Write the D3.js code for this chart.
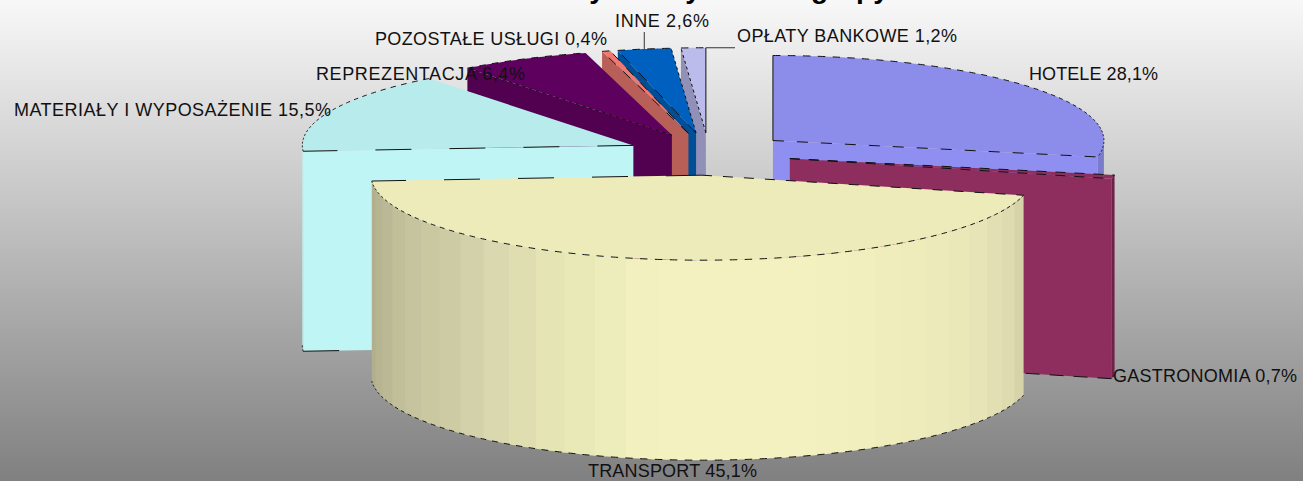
<!DOCTYPE html>
<html>
<head>
<meta charset="utf-8">
<script src="https://cdn.jsdelivr.net/npm/d3@7"></script>
<style>
  html, body { margin: 0; padding: 0; background: #fff; overflow: hidden; }
  text { font-family: "Liberation Sans", Arial, sans-serif; }
</style>
</head>
<body>
<div id="chart"></div>
<script>
var categories = ["HOTELE", "GASTRONOMIA", "TRANSPORT", "MATERIAŁY I WYPOSAŻENIE", "REPREZENTACJA", "POZOSTAŁE USŁUGI", "INNE", "OPŁATY BANKOWE"];
var values = [28.1, 0.7, 45.1, 15.5, 6.4, 0.4, 2.6, 1.2];
// only the descenders of the title are on the picture, so only what can be read is kept
var titleGlyphs = ["y", "y", "grupy"];

var topColors = ["#8c8ceb", "#8e2e5e", "#eeebbb", "#b8ecec", "#5e005e", "#f07870", "#0060c0", "#bcbcec"];
var wallColors = ["#8f8ff2", "#8e2e5e", "#f2f0c0", "#c0f5f5", "#520050", "#b86058", "#004f96", "#9090b8"];
var rimColors = ["#7b7bcc", "#6e2248", "#f2f0c0", "#c0f5f5", "#520050", "#b86058", "#004f96", "#9090b8"];

// dash of the two straight edges of each slice, "skip" leaves the edge out
var startDash = [null, "10,9", "10,11", "36,38", "3,4", "10,10", "12,12", "3,3"];
var endDash = ["11,13", "10,9", "36,38", "skip", "skip", "10,10", "3,3", null];
var baseDash = ["12,12", "14,10", "", "36,38", "", "", "", ""];

var width = 1303, height = 481;
var rad = Math.PI / 180;
var depth = 200, explode = 0.25;

var svg = d3.select("#chart").append("svg")
  .attr("width", width)
  .attr("height", height)
  .style("display", "block");

var grad = svg.append("defs").append("linearGradient")
  .attr("id", "bg").attr("x1", 0).attr("y1", 0).attr("x2", 0).attr("y2", 1);
grad.append("stop").attr("offset", 0).attr("stop-color", "#f8f8f8");
grad.append("stop").attr("offset", 1).attr("stop-color", "#808080");
svg.append("rect").attr("width", width).attr("height", height).attr("fill", "url(#bg)");

// flat projection of the unit circle
var sx = d3.scaleLinear().domain([-1, 1]).range([709 - 331, 709 + 331]);
var sy = d3.scaleLinear().domain([-1, 1]).range([154 - 85, 154 + 85]);

// banding on the front wall of the big slice
var bandColor = d3.scaleLinear()
  .domain([104, 113, 125, 143, 165, 189, 200, 208, 218, 228, 240, 252, 264].map(function(d) { return d * rad; }))
  .range(["#d2d0a4", "#dedcb0", "#e8e6b8", "#efedbc", "#f3f1c0", "#f3f1c0", "#eaeab9", "#e4e3b4", "#dad9ae", "#cdcca5", "#c6c59f", "#bbb995", "#b0ae8c"]);

var arcs = d3.pie().sort(null).startAngle(0).endAngle(2 * Math.PI)(values);
arcs.forEach(function(d, i) {
  var mid = (d.startAngle + d.endAngle) / 2;
  d.name = categories[i];
  d.cx = sx(explode * Math.sin(mid));
  d.cy = sy(-explode * Math.cos(mid));
});

function pt(d, a, h) {
  return [
    d.cx + sx(Math.sin(a)) - sx(0),
    d.cy + sy(-Math.cos(a)) - sy(0) + (h || 0)
  ];
}

function arcPts(d, a0, a1, h) {
  var n = Math.max(2, Math.ceil((a1 - a0) / (0.5 * rad)));
  return d3.range(n + 1).map(function(k) {
    return pt(d, a0 + (a1 - a0) * k / n, h);
  });
}

var openLine = d3.line();
var closedLine = d3.line().curve(d3.curveLinearClosed);

function edge(g, pts, dash) {
  if (dash === "skip") return;
  g.append("path")
    .attr("d", openLine(pts))
    .attr("fill", "none")
    .attr("stroke", "#111")
    .attr("stroke-width", 1)
    .attr("stroke-dasharray", dash);
}

// the dash runs in equal angles, so it reads as dots at the sides of the ellipse
function arcEdge(g, d, a0, a1, h) {
  var period = 2.6 * rad;
  d3.range(a0, a1, period).forEach(function(a) {
    edge(g, arcPts(d, a, Math.min(a + period / 2, a1), h), null);
  });
}

function drawSlice(d, i) {
  var g = svg.append("g").attr("class", "slice");
  var a0 = d.startAngle, a1 = d.endAngle;
  var c = [d.cx, d.cy];

  // radial wall that turns to the viewer
  var wallA = a1 < Math.PI ? a1 : (a0 > Math.PI ? a0 : null);
  if (wallA !== null) {
    g.append("path")
      .attr("d", closedLine([c, pt(d, wallA), pt(d, wallA, depth), [d.cx, d.cy + depth]]))
      .attr("fill", wallColors[i]);
    edge(g, [pt(d, wallA, depth), [d.cx, d.cy + depth]], baseDash[i]);
  }

  // outer wall, only the front half of the circle shows it
  var f0 = Math.max(a0, Math.PI / 2), f1 = Math.min(a1, 1.5 * Math.PI);
  if (f1 > f0) {
    if (i === 2) {
      // each band runs a bit under the next one so no seam shows
      var step = 5.6 * rad;
      d3.range(f0, f1, step).forEach(function(a) {
        var b = Math.min(a + step * 1.2, f1);
        var upper = arcPts(d, a, b);
        var lower = arcPts(d, a, b, depth).reverse();
        g.append("path")
          .attr("d", closedLine(upper.concat(lower)))
          .attr("fill", bandColor(a + step / 2));
      });
    } else {
      g.append("path")
        .attr("d", closedLine(arcPts(d, f0, f1).concat(arcPts(d, f0, f1, depth).reverse())))
        .attr("fill", rimColors[i]);
    }
    arcEdge(g, d, f0, f1, depth);
  }

  // top face
  g.append("path")
    .attr("d", closedLine([c].concat(arcPts(d, a0, a1))))
    .attr("fill", topColors[i]);
  arcEdge(g, d, a0, a1);
  edge(g, [c, pt(d, a0)], startDash[i]);
  edge(g, [c, pt(d, a1)], endDash[i]);
}

// back slices first, the big front slice last
[0, 1, 7, 6, 5, 4, 3, 2].forEach(function(i) { drawSlice(arcs[i], i); });

// leader lines
var inneTop = pt(arcs[6], (arcs[6].startAngle + arcs[6].endAngle) / 2);
svg.append("line")
  .attr("x1", inneTop[0]).attr("x2", inneTop[0])
  .attr("y1", 32).attr("y2", inneTop[1])
  .attr("stroke", "#333");
var oplatyTop = pt(arcs[7], arcs[7].endAngle);
svg.append("line")
  .attr("x1", oplatyTop[0]).attr("x2", 735)
  .attr("y1", oplatyTop[1]).attr("y2", oplatyTop[1])
  .attr("stroke", "#333");

// labels
var pl = d3.formatLocale({ decimal: ",", thousands: " ", grouping: [3], currency: ["", " zł"] });
var pct = pl.format(".1f");
var labelX = [1029, 1113, 588, 14, 316, 375, 615, 737];
var labelY = [80, 382, 477, 116, 80, 45, 27, 42];
var labelW = [129, 184, 169, 317, 209, 232, 94, 220];

svg.selectAll("text.label")
  .data(arcs)
  .enter().append("text")
  .attr("class", "label")
  .attr("x", function(d, i) { return labelX[i]; })
  .attr("y", function(d, i) { return labelY[i]; })
  .attr("font-size", 18)
  .attr("textLength", function(d, i) { return labelW[i]; })
  .attr("lengthAdjust", "spacing")
  .attr("fill", "#111")
  .text(function(d) { return d.name + " " + pct(d.value) + "%"; });

// title, cut off by the top edge
var titleX = [597, 693, 811];
var titleAnchor = ["middle", "middle", "start"];
svg.selectAll("text.title")
  .data(titleGlyphs)
  .enter().append("text")
  .attr("class", "title")
  .attr("x", function(d, i) { return titleX[i]; })
  .attr("y", -2)
  .attr("text-anchor", function(d, i) { return titleAnchor[i]; })
  .attr("font-size", 28)
  .attr("font-weight", "bold")
  .attr("fill", "#000")
  .text(function(d) { return d; });
</script>
</body>
</html>
